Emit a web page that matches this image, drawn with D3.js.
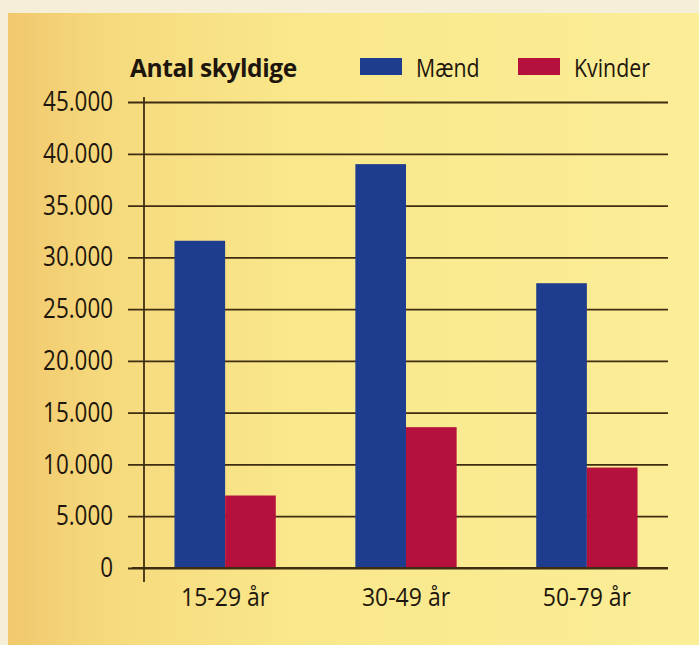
<!doctype html>
<html lang="da">
  <head>
    <meta charset="utf-8">
    <title>Antal skyldige</title>
    <script src="https://d3js.org/d3.v7.min.js"></script>
    <style>
      body { margin: 0; background: #f6efd8; }
      svg { display: block; }
      text { font-family: "Open Sans", sans-serif; fill: #1e160c; }
    </style>
  </head>

  <body>
    <svg width="699" height="645"></svg>
    <script>
      var categories = ['15-29 år', '30-49 år', '50-79 år'];
      var series = ['Mænd', 'Kvinder'];
      var maend = [31600, 39000, 27500];
      var kvinder = [7000, 13600, 9700];
      var yTicks = [0, 5000, 10000, 15000, 20000, 25000, 30000, 35000, 40000, 45000];
      var colors = ['#1f3d8e', '#b5113c'];

      var svg = d3.select('svg');

      // paper background, slightly orange towards the left edge
      var grad = svg.append('defs').append('linearGradient')
        .attr('id', 'paper').attr('x1', 0).attr('x2', 1).attr('y1', 0).attr('y2', 0);
      grad.append('stop').attr('offset', '0%').attr('stop-color', '#f1c86e');
      grad.append('stop').attr('offset', '14%').attr('stop-color', '#f6d97d');
      grad.append('stop').attr('offset', '40%').attr('stop-color', '#f9e78a');
      grad.append('stop').attr('offset', '100%').attr('stop-color', '#fbee98');

      svg.append('rect')
        .attr('x', 8).attr('y', 13).attr('width', 691).attr('height', 632)
        .attr('fill', 'url(#paper)');

      var locale = d3.formatLocale({ decimal: ',', thousands: '.', grouping: [3], currency: ['', ' kr'] });
      var fmt = locale.format(',');

      // the printed font is a narrow one, so squeeze Open Sans a bit
      var condense = function(sel, size, sx, x){
        sel.style('font-size', size + 'px')
          .attr('x', x / sx)
          .attr('transform', 'scale(' + sx + ',1)');
      };

      var y = d3.scaleLinear().domain([0, 45000]).range([568, 102]);

      var x0 = d3.scaleBand().domain(categories).range([145, 667])
        .paddingInner(0.44).paddingOuter(0.163);
      var x1 = d3.scaleBand().domain(series).range([0, x0.bandwidth()]);

      var rows = categories.map(function(c, i){
        return { cat: c, values: [maend[i], kvinder[i]] };
      });

      // gridlines + tick labels
      var yAxis = svg.append('g')
        .attr('transform', 'translate(128,0)')
        .call(d3.axisLeft(y).tickValues(yTicks).tickFormat(fmt)
          .tickSizeInner(-540).tickSizeOuter(0).tickPadding(15));
      yAxis.select('.domain').remove();
      yAxis.selectAll('.tick line').attr('stroke', '#3f2d12').attr('stroke-width', 1.8);
      yAxis.selectAll('.tick text')
        .style('font-family', '"Open Sans", sans-serif')
        .attr('fill', '#1e160c')
        .call(condense, 27, 0.83, -15);

      // bars
      var groups = svg.selectAll('g.cat').data(rows).enter()
        .append('g').attr('class', 'cat')
        .attr('transform', function(d){ return 'translate(' + x0(d.cat) + ',0)'; });

      groups.selectAll('rect').data(function(d){
          return d.values.map(function(v, j){ return { s: series[j], v: v, j: j }; });
        }).enter()
        .append('rect')
          .attr('x', function(d){ return x1(d.s); })
          .attr('width', x1.bandwidth())
          .attr('y', function(d){ return y(d.v); })
          .attr('height', function(d){ return y(0) - y(d.v); })
          .attr('fill', function(d){ return colors[d.j]; });

      // redraw zero line on top of bars
      svg.append('line')
        .attr('x1', 132).attr('x2', 668).attr('y1', y(0)).attr('y2', y(0))
        .attr('stroke', '#3f2d12').attr('stroke-width', 1.8);

      // vertical axis line
      svg.append('line')
        .attr('x1', 144).attr('x2', 144).attr('y1', 97).attr('y2', 582)
        .attr('stroke', '#3f2d12').attr('stroke-width', 1.8);

      // category labels
      svg.selectAll('g.catlab').data(categories).enter()
        .append('g').attr('class', 'catlab')
        .attr('transform', function(d){ return 'translate(' + (x0(d) + x0.bandwidth() / 2) + ',606)'; })
        .append('text')
          .attr('text-anchor', 'middle')
          .call(condense, 25, 0.92, 0)
          .text(function(d){ return d; });

      // title
      svg.append('text')
        .attr('x', 130).attr('y', 77)
        .style('font-size', '24.5px').style('font-weight', 'bold')
        .style('letter-spacing', '-0.4px')
        .text('Antal skyldige');

      // legend
      var legX = [360, 518];
      var leg = svg.selectAll('g.leg').data(series).enter()
        .append('g').attr('class', 'leg')
        .attr('transform', function(d, i){ return 'translate(' + legX[i] + ',58)'; });
      leg.append('rect').attr('width', 42).attr('height', 17)
        .attr('fill', function(d, i){ return colors[i]; });
      leg.append('text').attr('y', 19)
        .call(condense, 26, 0.82, 56)
        .text(function(d){ return d; });
    </script>
  </body>
</html>
